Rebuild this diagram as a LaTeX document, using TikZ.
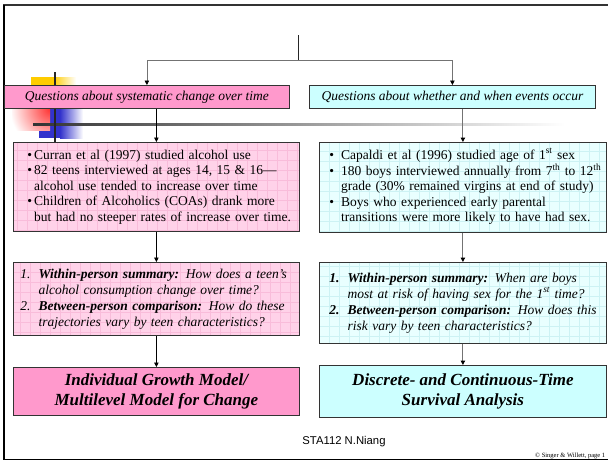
\documentclass[tikz,border=0pt]{standalone}
\usepackage{fontspec}
\setmainfont{Liberation Serif}
\setsansfont{Liberation Sans}
\usetikzlibrary{arrows.meta}

\definecolor{pinkhd}{HTML}{FF99CC}
\definecolor{pinklt}{HTML}{FFD2E9}
\definecolor{pinkln}{HTML}{F9BCDA}
\definecolor{cyanhd}{HTML}{CCFFFF}
\definecolor{cyanlt}{HTML}{E9FFFF}
\definecolor{cyanln}{HTML}{CDF2F4}
\definecolor{decoyel}{HTML}{FFCC00}
\definecolor{decored}{HTML}{FF3333}
\definecolor{decoblu}{HTML}{3333CC}

\tikzset{
  slidebox/.style={draw=black!80, line width=0.8pt, anchor=north west, inner ysep=0pt},
  gridfill/.style 2 args={fill=#1, path picture={\draw[#2, line width=0.35pt, step=10pt]
      (path picture bounding box.south west) grid (path picture bounding box.north east);}},
  headfont/.style={font=\fontsize{13.5}{15}\selectfont\itshape},
  bodyfont/.style={font=\fontsize{13.5}{15.5}\selectfont},
  askfont/.style={font=\fontsize{13.5}{16}\selectfont\itshape},
  modelfont/.style={font=\fontsize{17}{20}\selectfont\bfseries\itshape},
  link/.style={draw=black!55, line width=0.7pt},
  downarrow/.style={-{Triangle[length=4.5pt,width=4.5pt,color=black]}}
}

\begin{document}
\begin{tikzpicture}[x=1pt,y=-1pt]
\useasboundingbox (0,0) rectangle (608,461);

% ornament at top left
\fill[decoyel] (31,77) rectangle (53,85);
\shade[left color=decoyel, right color=white] (53,77) rectangle (76,85);
\shade[left color=decoblu, right color=white] (60,109) rectangle (83,138);
\fill[decoblu] (39,109) rectangle (60,138);
\begin{scope}
  \clip (12,109) rectangle (50,130);
  \shade[inner color=decored, outer color=white] (50,109) circle (40);
\end{scope}
\shade[left color=black!80, middle color=black!22, right color=white] (33,123) rectangle (565,125.5);
\draw[black!85, line width=2pt] (55,72) -- (55,142);

% slide frame
\draw[black!80, line width=2.5pt] (3,5) -- (608,5);
\draw[black, line width=1.8pt] (4,5) -- (4,460);
\draw[black, line width=1.5pt] (4,459.5) -- (608,459.5);

% headers
\node[slidebox, fill=pinkhd, headfont, minimum width=285pt, minimum height=23pt] (hdL) at (4,85)
  {Questions about systematic change over time};
\node[slidebox, fill=cyanhd, headfont, minimum width=286pt, minimum height=23pt] (hdR) at (309,85)
  {Questions about whether and when events occur};

% studies
\node[slidebox, gridfill={pinklt}{pinkln}, bodyfont, text width=258pt, inner xsep=14pt, minimum height=89pt] (ctL) at (13,142)
  {\begin{tabular}{@{}l@{\hspace{2pt}}l@{}}
   \textbullet & Curran et al (1997) studied alcohol use\\
   \textbullet & 82 teens interviewed at ages 14, 15 \& 16---\\
               & alcohol use tended to increase over time\\
   \textbullet & Children of Alcoholics (COAs) drank more\\
               & but had no steeper rates of increase over time.
   \end{tabular}};
\node[slidebox, gridfill={cyanlt}{cyanln}, bodyfont, text width=267pt, inner xsep=10pt, minimum height=90pt] (ctR) at (319,142)
  {\begin{tabular}{@{}l@{\hspace{7pt}}l@{}}
   \textbullet & Capaldi et al (1996) studied age of 1\textsuperscript{st} sex\\
   \textbullet & 180 boys interviewed annually from 7\textsuperscript{th} to 12\textsuperscript{th}\\
               & grade (30\% remained virgins at end of study)\\
   \textbullet & Boys who experienced early parental\\
               & transitions were more likely to have had sex.
   \end{tabular}};

% research questions
\node[slidebox, gridfill={pinklt}{pinkln}, askfont, text width=272pt, inner xsep=7pt, minimum height=73pt] (qL) at (13,262)
  {\begin{tabular}{@{}l@{\hspace{8pt}}l@{}}
   1. & \textbf{Within-person summary:} How does a teen’s\\
      & alcohol consumption change over time?\\
   2. & \textbf{Between-person comparison:} How do these\\
      & trajectories vary by teen characteristics?
   \end{tabular}};
\node[slidebox, gridfill={cyanlt}{cyanln}, askfont, text width=267pt, inner xsep=10pt, minimum height=81pt] (qR) at (319,262)
  {\begin{tabular}{@{}l@{\hspace{8pt}}l@{}}
   \textbf{1.} & \textbf{Within-person summary:} When are boys\\
               & most at risk of having sex for the 1\textsuperscript{st} time?\\
   \textbf{2.} & \textbf{Between-person comparison:} How does this\\
               & risk vary by teen characteristics?
   \end{tabular}};

% methods
\node[slidebox, fill=pinkhd, modelfont, align=center, minimum width=286pt, minimum height=48pt] (mdL) at (13,367)
  {Individual Growth Model/\\Multilevel Model for Change};
\node[slidebox, fill=cyanhd, modelfont, align=center, minimum width=287pt, minimum height=52pt] (mdR) at (319,365)
  {Discrete- and Continuous-Time\\Survival Analysis};

% connectors
\coordinate (stem) at (298,35);
\coordinate (fork) at (298,60);
\draw[black!85, line width=0.8pt] (stem) -- (fork);
\draw[link, downarrow] (fork) -| (hdL.north);
\draw[link, downarrow] (fork) -| (hdR.north);
\draw[black, line width=0.7pt, downarrow] (hdL.south -| ctL.north) -- (ctL.north);
\draw[black, line width=0.7pt, downarrow] (ctL.south) -- (qL.north);
\draw[black, line width=0.7pt, downarrow] (qL.south) -- (mdL.north);
\draw[link, line width=1pt, downarrow] (hdR.south -| ctR.north) -- (ctR.north);
\draw[link, line width=1pt, downarrow] (ctR.south) -- (qR.north);
\draw[link, line width=1pt, downarrow] (qR.south) -- (mdR.north);

% footer
\node[font=\sffamily\fontsize{11.3}{13}\selectfont] (foot) at (344,442) {STA112 N.Niang};
\node[anchor=base west, inner sep=0pt, font=\fontsize{6.5}{7}\selectfont] (copy) at (535,457.5) {© Singer \& Willett, page 1};
\end{tikzpicture}
\end{document}
